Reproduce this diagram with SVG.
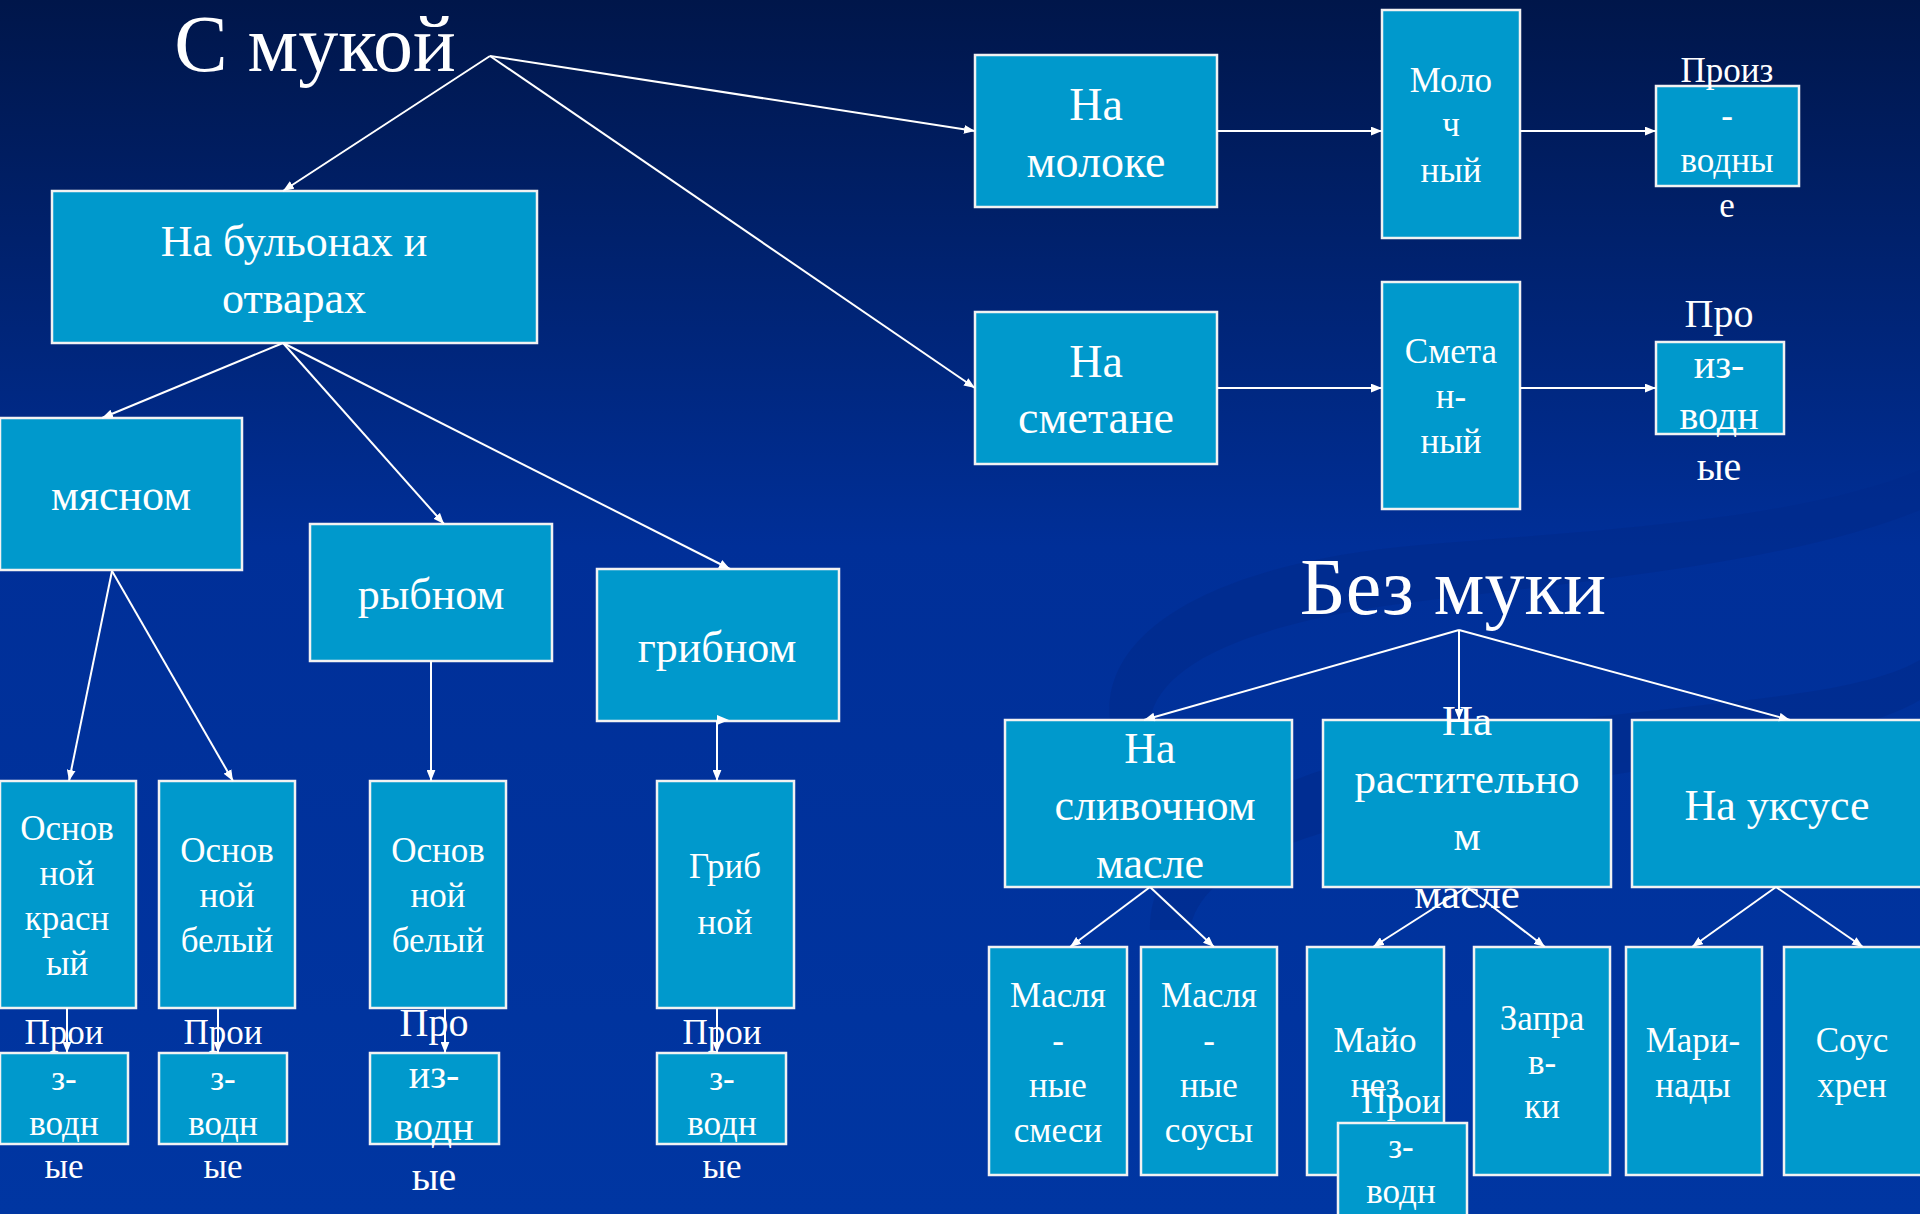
<svg xmlns="http://www.w3.org/2000/svg" width="1920" height="1214" viewBox="0 0 1920 1214">
<defs>
<linearGradient id="bg" x1="0" y1="0" x2="0" y2="1">
<stop offset="0" stop-color="#00164a"/>
<stop offset="0.45" stop-color="#002f98"/>
<stop offset="1" stop-color="#0036a2"/>
</linearGradient>
<marker id="ah" viewBox="0 0 10 8" markerWidth="11" markerHeight="9" refX="10" refY="4" orient="auto" markerUnits="userSpaceOnUse">
<path d="M0,0 L10,4 L0,8 z" fill="#ffffff"/>
</marker>
<style>
.box{fill:#0099cc;stroke:#f2f2f2;stroke-width:2.5}
text{font-family:"Liberation Serif","Times New Roman",serif;fill:#ffffff;text-anchor:middle}
.t80{font-size:80px}
.t46{font-size:46px}
.t44{font-size:44px}
.t43{font-size:43px}
.t40{font-size:40px}
.t35{font-size:35px}
.c line{stroke:#ffffff;stroke-width:2;marker-end:url(#ah)}
</style>
</defs>
<rect width="1920" height="1214" fill="url(#bg)"/>
<g id="swirl" fill="#002a8a" opacity="0.55">
<path d="M1110,720 C1100,620 1240,560 1420,545 C1600,530 1800,520 1920,470 L1920,510 C1800,560 1600,580 1430,600 C1260,620 1160,660 1150,720 Z"/>
<path d="M1150,930 C1150,820 1300,760 1500,730 C1700,700 1850,700 1920,660 L1920,700 C1850,740 1700,760 1520,790 C1330,820 1200,860 1190,930 Z"/>
</g>
<g id="title-s-mukoy"><text class="t80" x="315" y="71">С мукой</text></g>
<g id="title-bez-muki"><text class="t80" x="1453" y="614">Без муки</text></g>
<g id="n-bulon"><rect class="box" x="52" y="191" width="485" height="152"/><text class="t44" x="294" y="256">На бульонах и</text><text class="t44" x="294" y="313">отварах</text></g>
<g id="n-moloko"><rect class="box" x="975" y="55" width="242" height="152"/><text class="t46" x="1096" y="120">На</text><text class="t46" x="1096" y="177">молоке</text></g>
<g id="n-molochny"><rect class="box" x="1382" y="10" width="138" height="228"/><text class="t35" x="1451" y="92">Моло</text><text class="t35" x="1451" y="136">ч</text><text class="t35" x="1451" y="182">ный</text></g>
<g id="n-proiz1"><rect class="box" x="1656" y="86" width="143" height="100"/><text class="t35" x="1727" y="82">Произ</text><text class="t35" x="1727" y="127">-</text><text class="t35" x="1727" y="172">водны</text><text class="t35" x="1727" y="217">е</text></g>
<g id="n-smetana"><rect class="box" x="975" y="312" width="242" height="152"/><text class="t46" x="1096" y="377">На</text><text class="t46" x="1096" y="433">сметане</text></g>
<g id="n-smetanny"><rect class="box" x="1382" y="282" width="138" height="227"/><text class="t35" x="1451" y="363">Смета</text><text class="t35" x="1451" y="408">н-</text><text class="t35" x="1451" y="453">ный</text></g>
<g id="n-proiz2"><rect class="box" x="1656" y="342" width="128" height="92"/><text class="t40" x="1719" y="327">Про</text><text class="t40" x="1719" y="378">из-</text><text class="t40" x="1719" y="429">водн</text><text class="t40" x="1719" y="480">ые</text></g>
<g id="n-myas"><rect class="box" x="0" y="418" width="242" height="152"/><text class="t44" x="121" y="510">мясном</text></g>
<g id="n-ryb"><rect class="box" x="310" y="524" width="242" height="137"/><text class="t44" x="431" y="609">рыбном</text></g>
<g id="n-grib"><rect class="box" x="597" y="569" width="242" height="152"/><text class="t44" x="717" y="662">грибном</text></g>
<g id="n-osn-kr"><rect class="box" x="0" y="781" width="136" height="227"/><text class="t35" x="67" y="840">Основ</text><text class="t35" x="67" y="885">ной</text><text class="t35" x="67" y="930">красн</text><text class="t35" x="67" y="975">ый</text></g>
<g id="n-osn-b1"><rect class="box" x="159" y="781" width="136" height="227"/><text class="t35" x="227" y="862">Основ</text><text class="t35" x="227" y="907">ной</text><text class="t35" x="227" y="952">белый</text></g>
<g id="n-osn-b2"><rect class="box" x="370" y="781" width="136" height="227"/><text class="t35" x="438" y="862">Основ</text><text class="t35" x="438" y="907">ной</text><text class="t35" x="438" y="952">белый</text></g>
<g id="n-gribnoy"><rect class="box" x="657" y="781" width="137" height="227"/><text class="t35" x="725" y="878">Гриб</text><text class="t35" x="725" y="934">ной</text></g>
<g id="p-a"><rect class="box" x="0" y="1053" width="128" height="91"/><text class="t35" x="64" y="1044">Прои</text><text class="t35" x="64" y="1090">з-</text><text class="t35" x="64" y="1135">водн</text><text class="t35" x="64" y="1178">ые</text></g>
<g id="p-b"><rect class="box" x="159" y="1053" width="128" height="91"/><text class="t35" x="223" y="1044">Прои</text><text class="t35" x="223" y="1090">з-</text><text class="t35" x="223" y="1135">водн</text><text class="t35" x="223" y="1178">ые</text></g>
<g id="p-c"><rect class="box" x="370" y="1053" width="129" height="91"/><text class="t40" x="434" y="1036">Про</text><text class="t40" x="434" y="1088">из-</text><text class="t40" x="434" y="1140">водн</text><text class="t40" x="434" y="1190">ые</text></g>
<g id="p-d"><rect class="box" x="657" y="1053" width="129" height="91"/><text class="t35" x="722" y="1044">Прои</text><text class="t35" x="722" y="1090">з-</text><text class="t35" x="722" y="1135">водн</text><text class="t35" x="722" y="1178">ые</text></g>
<g id="n-sliv"><rect class="box" x="1005" y="720" width="287" height="167"/><text class="t44" x="1150" y="763">На</text><text class="t44" x="1155" y="820">сливочном</text><text class="t44" x="1150" y="878">масле</text></g>
<g id="n-rast"><rect class="box" x="1323" y="720" width="288" height="167"/><text class="t43" x="1467" y="735">На</text><text class="t43" x="1467" y="793">растительно</text><text class="t43" x="1467" y="850">м</text><text class="t43" x="1467" y="908">масле</text></g>
<g id="n-uks"><rect class="box" x="1632" y="720" width="292" height="167"/><text class="t44" x="1777" y="820">На уксусе</text></g>
<g id="b-sm"><rect class="box" x="989" y="947" width="138" height="228"/><text class="t35" x="1058" y="1007">Масля</text><text class="t35" x="1058" y="1052">-</text><text class="t35" x="1058" y="1097">ные</text><text class="t35" x="1058" y="1142">смеси</text></g>
<g id="b-ss"><rect class="box" x="1141" y="947" width="136" height="228"/><text class="t35" x="1209" y="1007">Масля</text><text class="t35" x="1209" y="1052">-</text><text class="t35" x="1209" y="1097">ные</text><text class="t35" x="1209" y="1142">соусы</text></g>
<g id="b-may"><rect class="box" x="1307" y="947" width="137" height="228"/><text class="t35" x="1375" y="1052">Майо</text><text class="t35" x="1375" y="1097">нез</text></g>
<g id="b-zap"><rect class="box" x="1474" y="947" width="136" height="228"/><text class="t35" x="1542" y="1030">Запра</text><text class="t35" x="1542" y="1074">в-</text><text class="t35" x="1542" y="1118">ки</text></g>
<g id="b-mar"><rect class="box" x="1626" y="947" width="136" height="228"/><text class="t35" x="1693" y="1052">Мари-</text><text class="t35" x="1693" y="1097">нады</text></g>
<g id="b-sous"><rect class="box" x="1784" y="947" width="140" height="228"/><text class="t35" x="1852" y="1052">Соус</text><text class="t35" x="1852" y="1097">хрен</text></g>
<g id="p-may"><rect class="box" x="1338" y="1123" width="129" height="100"/><text class="t35" x="1401" y="1113">Прои</text><text class="t35" x="1401" y="1158">з-</text><text class="t35" x="1401" y="1203">водн</text></g>
<g id="connectors" class="c">
<line x1="490" y1="56" x2="283" y2="191"/>
<line x1="490" y1="56" x2="975" y2="131"/>
<line x1="490" y1="56" x2="975" y2="388"/>
<line x1="1217" y1="131" x2="1382" y2="131"/>
<line x1="1520" y1="131" x2="1656" y2="131"/>
<line x1="1217" y1="388" x2="1382" y2="388"/>
<line x1="1520" y1="388" x2="1656" y2="388"/>
<line x1="283" y1="343" x2="102" y2="418"/>
<line x1="283" y1="343" x2="444" y2="524"/>
<line x1="283" y1="343" x2="730" y2="569"/>
<line x1="112" y1="571" x2="69" y2="781"/>
<line x1="112" y1="571" x2="233" y2="781"/>
<line x1="431" y1="661" x2="431" y2="781"/>
<line x1="717" y1="721" x2="717" y2="781"/>
<path d="M717,715 L729,720 L717,725 z" fill="#ffffff"/>
<line x1="67" y1="1008" x2="67" y2="1053"/>
<line x1="218" y1="1008" x2="218" y2="1053"/>
<line x1="445" y1="1008" x2="445" y2="1053"/>
<line x1="717" y1="1008" x2="717" y2="1053"/>
<line x1="1459" y1="630" x2="1144" y2="720"/>
<line x1="1459" y1="630" x2="1459" y2="720"/>
<line x1="1459" y1="630" x2="1790" y2="720"/>
<line x1="1150" y1="887" x2="1070" y2="947"/>
<line x1="1150" y1="887" x2="1214" y2="947"/>
<line x1="1467" y1="887" x2="1373" y2="947"/>
<line x1="1467" y1="887" x2="1545" y2="947"/>
<line x1="1776" y1="887" x2="1692" y2="947"/>
<line x1="1776" y1="887" x2="1863" y2="947"/>
</g>
</svg>
